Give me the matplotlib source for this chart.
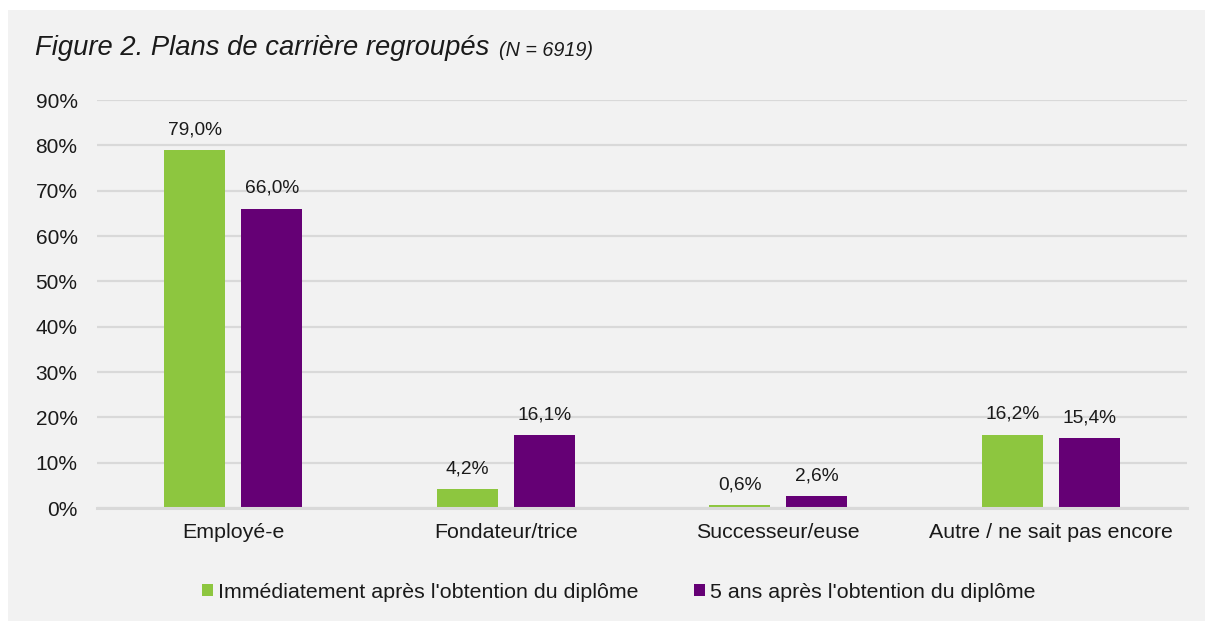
import matplotlib
matplotlib.use("Agg")
import matplotlib.pyplot as plt
from matplotlib.patches import Rectangle, Patch
import numpy as np

categories = ["Employé-e", "Fondateur/trice", "Successeur/euse", "Autre / ne sait pas encore"]
immediat = [79.0, 4.2, 0.6, 16.2]
cinq_ans = [66.0, 16.1, 2.6, 15.4]
series_names = ["Immédiatement après l'obtention du diplôme", "5 ans après l'obtention du diplôme"]
yticks = [0, 10, 20, 30, 40, 50, 60, 70, 80, 90]

GREEN = "#8dc63f"
PURPLE = "#650075"
BG = "#f2f2f2"
GRID = "#d9d9d9"
TXT = "#1a1a1a"

plt.rcParams['font.family'] = ['Liberation Sans', 'DejaVu Sans']

fig = plt.figure(figsize=(12.05, 6.21), dpi=100)
fig.patch.set_facecolor("white")
fig.patches.append(Rectangle((8/1205, 0), 1 - 8/1205, 1 - 10/621, transform=fig.transFigure,
                             facecolor=BG, edgecolor="none", zorder=-10))

ax = fig.add_axes([97/1205, 113/621, 1090/1205, 408/621])
ax.set_facecolor(BG)
ax.patch.set_alpha(0)

x = np.arange(len(categories))
w = 0.224
off = 0.141
b1 = ax.bar(x - off, immediat, w, color=GREEN, zorder=3)
b2 = ax.bar(x + off, cinq_ans, w, color=PURPLE, zorder=3)

for bars, vals in ((b1, immediat), (b2, cinq_ans)):
    for r, v in zip(bars, vals):
        ax.annotate(f"{v:.1f}%".replace(".", ","), (r.get_x() + r.get_width() / 2, v),
                    xytext=(0, 8.5), textcoords="offset points", ha="center", va="bottom",
                    fontsize=13.8, color=TXT)

ax.set_xlim(-0.5, len(categories) - 0.5)
ax.set_ylim(0, 90)
ax.set_yticks(yticks)
ax.set_yticklabels([f"{t}%" for t in yticks], fontsize=15, color=TXT)
ax.set_xticks(x)
ax.set_xticklabels(categories, fontsize=15.4, color=TXT)
ax.tick_params(axis="both", length=0)
ax.tick_params(axis="y", pad=14)
ax.tick_params(axis="x", pad=11)
ax.yaxis.grid(True, color=GRID, linewidth=1.6, zorder=0)
ax.set_axisbelow(True)
for s in ["top", "right", "left"]:
    ax.spines[s].set_visible(False)
ax.spines["bottom"].set_color(GRID)
ax.spines["bottom"].set_linewidth(2.2)
ax.spines["bottom"].set_zorder(4)

fig.text(35/1205, 1 - 48/621, "Figure 2. Plans de carrière regroupés", fontsize=19.7, style="italic",
         va="center", ha="left", color=TXT)
fig.text(499/1205, 1 - 50/621, "(N = 6919)", fontsize=14.2, style="italic",
         va="center", ha="left", color=TXT)

handles = [Patch(facecolor=GREEN), Patch(facecolor=PURPLE)]
fig.legend(handles, series_names, loc="center", bbox_to_anchor=(619/1205, 29/621), ncol=2,
           frameon=False, fontsize=15.4, handlelength=0.5, handleheight=0.5,
           handletextpad=0.25, columnspacing=2.6, labelcolor=TXT)

fig.savefig("out.png", dpi=100, facecolor=fig.get_facecolor())
